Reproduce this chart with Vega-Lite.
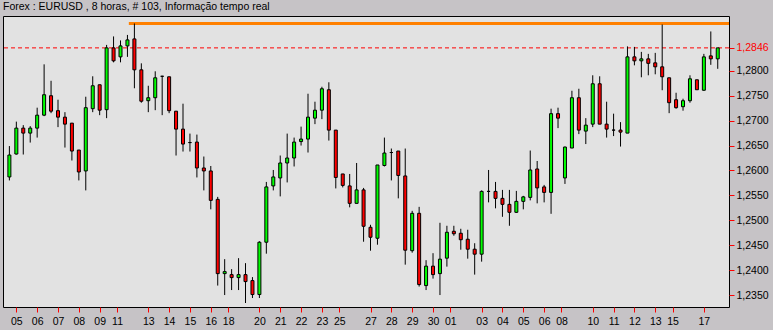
{
  "$schema": "https://vega.github.io/schema/vega-lite/v6.json",
  "width": 726,
  "height": 291,
  "autosize": "none",
  "padding": {"left": 3, "top": 16, "right": 44, "bottom": 23},
  "background": "#c6c3c6",
  "title": {
    "text": "Forex : EURUSD , 8 horas, # 103, Informação tempo real",
    "anchor": "start",
    "frame": "group",
    "orient": "top",
    "offset": -4,
    "baseline": "alphabetic",
    "font": "Liberation Sans",
    "fontSize": 10.5,
    "fontWeight": "normal",
    "color": "#000000"
  },
  "config": {
    "view": {"fill": "#e2e2e2", "stroke": "#000000", "strokeWidth": 1}
  },
  "datasets": {
    "candles": [
      {"i":0,"open":1.2587,"close":1.2631,"high":1.2649,"low":1.2580},
      {"i":1,"open":1.2633,"close":1.2685,"high":1.2698,"low":1.2632},
      {"i":2,"open":1.2685,"close":1.2675,"high":1.2691,"low":1.2632},
      {"i":3,"open":1.2675,"close":1.2685,"high":1.2689,"low":1.2656},
      {"i":4,"open":1.2685,"close":1.2711,"high":1.2726,"low":1.2666},
      {"i":5,"open":1.2711,"close":1.2752,"high":1.2813,"low":1.2709},
      {"i":6,"open":1.2750,"close":1.2719,"high":1.2780,"low":1.2715},
      {"i":7,"open":1.2720,"close":1.2707,"high":1.2742,"low":1.2687},
      {"i":8,"open":1.2707,"close":1.2693,"high":1.2717,"low":1.2646},
      {"i":9,"open":1.2695,"close":1.2639,"high":1.2695,"low":1.2620},
      {"i":10,"open":1.2641,"close":1.2597,"high":1.2641,"low":1.2580},
      {"i":11,"open":1.2599,"close":1.2726,"high":1.2748,"low":1.2560},
      {"i":12,"open":1.2724,"close":1.2770,"high":1.2789,"low":1.2717},
      {"i":13,"open":1.2772,"close":1.2721,"high":1.2772,"low":1.2711},
      {"i":14,"open":1.2722,"close":1.2846,"high":1.2852,"low":1.2705},
      {"i":15,"open":1.2846,"close":1.2820,"high":1.2869,"low":1.2817},
      {"i":16,"open":1.2828,"close":1.2850,"high":1.2861,"low":1.2817},
      {"i":17,"open":1.2850,"close":1.2862,"high":1.2872,"low":1.2828},
      {"i":18,"open":1.2864,"close":1.2802,"high":1.2895,"low":1.2765},
      {"i":19,"open":1.2802,"close":1.2739,"high":1.2815,"low":1.2736},
      {"i":20,"open":1.2740,"close":1.2746,"high":1.2770,"low":1.2717},
      {"i":21,"open":1.2746,"close":1.2786,"high":1.2799,"low":1.2721},
      {"i":22,"open":1.2789,"close":1.2789,"high":1.2790,"low":1.2711},
      {"i":23,"open":1.2788,"close":1.2720,"high":1.2788,"low":1.2715},
      {"i":24,"open":1.2719,"close":1.2683,"high":1.2719,"low":1.2630},
      {"i":25,"open":1.2683,"close":1.2653,"high":1.2734,"low":1.2638},
      {"i":26,"open":1.2656,"close":1.2656,"high":1.2674,"low":1.2638},
      {"i":27,"open":1.2657,"close":1.2605,"high":1.2672,"low":1.2586},
      {"i":28,"open":1.2605,"close":1.2599,"high":1.2628,"low":1.2560},
      {"i":29,"open":1.2599,"close":1.2540,"high":1.2609,"low":1.2522},
      {"i":30,"open":1.2542,"close":1.2393,"high":1.2547,"low":1.2369},
      {"i":31,"open":1.2393,"close":1.2397,"high":1.2422,"low":1.2350},
      {"i":32,"open":1.2391,"close":1.2385,"high":1.2402,"low":1.2360},
      {"i":33,"open":1.2385,"close":1.2391,"high":1.2424,"low":1.2360},
      {"i":34,"open":1.2391,"close":1.2377,"high":1.2414,"low":1.2334},
      {"i":35,"open":1.2379,"close":1.2351,"high":1.2386,"low":1.2344},
      {"i":36,"open":1.2351,"close":1.2456,"high":1.2458,"low":1.2344},
      {"i":37,"open":1.2456,"close":1.2567,"high":1.2577,"low":1.2433},
      {"i":38,"open":1.2569,"close":1.2587,"high":1.2601,"low":1.2560},
      {"i":39,"open":1.2585,"close":1.2615,"high":1.2630,"low":1.2548},
      {"i":40,"open":1.2615,"close":1.2625,"high":1.2674,"low":1.2576},
      {"i":41,"open":1.2625,"close":1.2657,"high":1.2666,"low":1.2608},
      {"i":42,"open":1.2658,"close":1.2663,"high":1.2688,"low":1.2650},
      {"i":43,"open":1.2663,"close":1.2707,"high":1.2754,"low":1.2636},
      {"i":44,"open":1.2705,"close":1.2721,"high":1.2738,"low":1.2693},
      {"i":45,"open":1.2721,"close":1.2764,"high":1.2768,"low":1.2703},
      {"i":46,"open":1.2762,"close":1.2681,"high":1.2777,"low":1.2660},
      {"i":47,"open":1.2681,"close":1.2586,"high":1.2681,"low":1.2564},
      {"i":48,"open":1.2593,"close":1.2570,"high":1.2593,"low":1.2566},
      {"i":49,"open":1.2569,"close":1.2534,"high":1.2593,"low":1.2526},
      {"i":50,"open":1.2534,"close":1.2561,"high":1.2615,"low":1.2534},
      {"i":51,"open":1.2561,"close":1.2488,"high":1.2565,"low":1.2457},
      {"i":52,"open":1.2486,"close":1.2466,"high":1.2491,"low":1.2439},
      {"i":53,"open":1.2464,"close":1.2611,"high":1.2611,"low":1.2451},
      {"i":54,"open":1.2610,"close":1.2635,"high":1.2666,"low":1.2608},
      {"i":55,"open":1.2636,"close":1.2636,"high":1.2644,"low":1.2580},
      {"i":56,"open":1.2639,"close":1.2590,"high":1.2639,"low":1.2544},
      {"i":57,"open":1.2589,"close":1.2440,"high":1.2644,"low":1.2411},
      {"i":58,"open":1.2439,"close":1.2514,"high":1.2519,"low":1.2435},
      {"i":59,"open":1.2514,"close":1.2371,"high":1.2527,"low":1.2367},
      {"i":60,"open":1.2369,"close":1.2408,"high":1.2420,"low":1.2360},
      {"i":61,"open":1.2408,"close":1.2391,"high":1.2434,"low":1.2383},
      {"i":62,"open":1.2393,"close":1.2422,"high":1.2495,"low":1.2350},
      {"i":63,"open":1.2424,"close":1.2476,"high":1.2489,"low":1.2407},
      {"i":64,"open":1.2478,"close":1.2473,"high":1.2489,"low":1.2469},
      {"i":65,"open":1.2474,"close":1.2461,"high":1.2483,"low":1.2441},
      {"i":66,"open":1.2462,"close":1.2442,"high":1.2481,"low":1.2423},
      {"i":67,"open":1.2442,"close":1.2432,"high":1.2454,"low":1.2391},
      {"i":68,"open":1.2432,"close":1.2558,"high":1.2560,"low":1.2417},
      {"i":69,"open":1.2558,"close":1.2558,"high":1.2601,"low":1.2536},
      {"i":70,"open":1.2558,"close":1.2544,"high":1.2577,"low":1.2524},
      {"i":71,"open":1.2544,"close":1.2532,"high":1.2561,"low":1.2507},
      {"i":72,"open":1.2532,"close":1.2516,"high":1.2561,"low":1.2489},
      {"i":73,"open":1.2516,"close":1.2538,"high":1.2559,"low":1.2515},
      {"i":74,"open":1.2538,"close":1.2547,"high":1.2549,"low":1.2522},
      {"i":75,"open":1.2546,"close":1.2601,"high":1.2640,"low":1.2540},
      {"i":76,"open":1.2603,"close":1.2565,"high":1.2619,"low":1.2534},
      {"i":77,"open":1.2567,"close":1.2556,"high":1.2571,"low":1.2536},
      {"i":78,"open":1.2556,"close":1.2714,"high":1.2724,"low":1.2513},
      {"i":79,"open":1.2714,"close":1.2705,"high":1.2726,"low":1.2685},
      {"i":80,"open":1.2585,"close":1.2647,"high":1.2648,"low":1.2573},
      {"i":81,"open":1.2645,"close":1.2746,"high":1.2760,"low":1.2645},
      {"i":82,"open":1.2746,"close":1.2681,"high":1.2764,"low":1.2673},
      {"i":83,"open":1.2679,"close":1.2691,"high":1.2705,"low":1.2653},
      {"i":84,"open":1.2693,"close":1.2774,"high":1.2791,"low":1.2687},
      {"i":85,"open":1.2774,"close":1.2693,"high":1.2789,"low":1.2693},
      {"i":86,"open":1.2693,"close":1.2683,"high":1.2738,"low":1.2666},
      {"i":87,"open":1.2681,"close":1.2681,"high":1.2714,"low":1.2669},
      {"i":88,"open":1.2681,"close":1.2677,"high":1.2697,"low":1.2648},
      {"i":89,"open":1.2675,"close":1.2828,"high":1.2849,"low":1.2675},
      {"i":90,"open":1.2828,"close":1.2820,"high":1.2848,"low":1.2811},
      {"i":91,"open":1.2820,"close":1.2824,"high":1.2838,"low":1.2787},
      {"i":92,"open":1.2824,"close":1.2815,"high":1.2834,"low":1.2791},
      {"i":93,"open":1.2816,"close":1.2808,"high":1.2836,"low":1.2793},
      {"i":94,"open":1.2808,"close":1.2788,"high":1.2893,"low":1.2761},
      {"i":95,"open":1.2786,"close":1.2736,"high":1.2786,"low":1.2715},
      {"i":96,"open":1.2742,"close":1.2726,"high":1.2756,"low":1.2724},
      {"i":97,"open":1.2728,"close":1.2740,"high":1.2744,"low":1.2720},
      {"i":98,"open":1.2740,"close":1.2784,"high":1.2791,"low":1.2736},
      {"i":99,"open":1.2782,"close":1.2762,"high":1.2782,"low":1.2762},
      {"i":100,"open":1.2761,"close":1.2828,"high":1.2834,"low":1.2760},
      {"i":101,"open":1.2830,"close":1.2824,"high":1.2879,"low":1.2812},
      {"i":102,"open":1.2824,"close":1.2846,"high":1.2846,"low":1.2804}
    ],
    "bid": [{"price": 1.2846}],
    "resistance": [{"start": 17.2, "end": 104, "price": 1.2895}]
  },
  "layer": [
    {
      "data": {"name": "bid"},
      "mark": {"type": "rule", "color": "#ff0000", "strokeWidth": 1, "strokeDash": [4, 3]},
      "encoding": {
        "y": {"field": "price", "type": "quantitative", "title": null, "scale": {"domain": [1.2326, 1.291], "zero": false, "nice": false}}
      }
    },
    {
      "data": {"name": "resistance"},
      "mark": {"type": "rule", "color": "#ff8000", "strokeWidth": 3, "clip": true},
      "encoding": {
        "x": {"field": "start", "type": "quantitative", "title": null, "scale": {"domain": [-0.2, 102.9], "zero": false, "nice": false}},
        "x2": {"field": "end"},
        "y": {"field": "price", "type": "quantitative", "title": null}
      }
    },
    {
      "data": {"name": "candles"},
      "mark": {"type": "rule", "color": "#000000", "strokeWidth": 1},
      "encoding": {
        "x": {
          "field": "i", "type": "quantitative", "title": null,
          "scale": {"domain": [-0.2, 102.9], "zero": false, "nice": false},
          "axis": {
            "values": [1,4,7,10,13,15.5,20,23,26,29,31.5,36,39,42,45,47.5,52,55,58,61,63.5,68,71,74,77,79.5,84,87,90,93,95.5,100],
            "tickCount": 200,
            "labelExpr": "['05','06','07','08','09','11','13','14','15','16','18','20','21','22','23','25','27','28','29','30','01','03','04','05','06','08','10','11','12','13','15','17'][indexof([1,4,7,10,13,15.5,20,23,26,29,31.5,36,39,42,45,47.5,52,55,58,61,63.5,68,71,74,77,79.5,84,87,90,93,95.5,100], datum.value)]",
            "tickColor": "#ff0000",
            "tickSize": 5,
            "tickWidth": 1,
            "domain": false,
            "grid": false,
            "labelFont": "Liberation Sans",
            "labelFontSize": 10.5,
            "labelColor": "#000000",
            "labelPadding": 4,
            "labelFlush": false,
            "labelOverlap": false,
            "title": null
          }
        },
        "y": {
          "field": "low", "type": "quantitative", "title": null,
          "scale": {"domain": [1.2326, 1.291], "zero": false, "nice": false},
          "axis": {
            "orient": "right",
            "values": [1.235, 1.24, 1.245, 1.25, 1.255, 1.26, 1.265, 1.27, 1.275, 1.28, 1.2846],
            "tickCount": 200,
            "labelExpr": "replace(format(datum.value, '.4f'), '.', ',')",
            "tickColor": "#ff0000",
            "tickSize": 5,
            "tickWidth": 1,
            "domain": false,
            "grid": false,
            "labelFont": "Liberation Sans",
            "labelFontSize": 10.5,
            "labelColor": {"condition": {"test": "datum.value == 1.2846", "value": "#ff0000"}, "value": "#000000"},
            "labelPadding": 2,
            "labelFlush": false,
            "labelOverlap": false,
            "title": null
          }
        },
        "y2": {"field": "high"}
      }
    },
    {
      "data": {"name": "candles"},
      "mark": {"type": "bar", "size": 3, "stroke": "#000000", "strokeWidth": 1},
      "encoding": {
        "x": {"field": "i", "type": "quantitative", "title": null},
        "y": {"field": "open", "type": "quantitative", "title": null},
        "y2": {"field": "close"},
        "color": {
          "condition": {"test": "datum.close >= datum.open", "value": "#00ff00"},
          "value": "#ff0000"
        }
      }
    }
  ]
}
